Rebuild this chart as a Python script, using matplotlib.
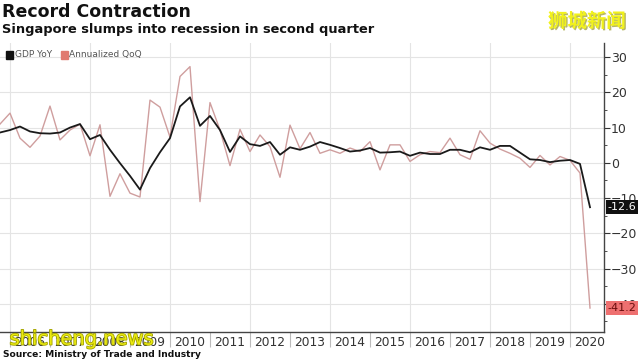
import numpy as np
import pandas as pd
import matplotlib
matplotlib.use('Agg')
import matplotlib.pyplot as plt
import matplotlib.transforms as mtransforms
import matplotlib.patheffects as pe
from matplotlib.patches import Rectangle

plt.rcParams['font.family'] = ['DejaVu Sans', 'Noto Sans CJK SC']

# quarterly data, 2005Q3 .. 2020Q2
quarters = pd.period_range('2005Q3', '2020Q2', freq='Q')
gdp_yoy = [8.6, 9.3, 10.3, 8.9, 8.4, 8.3, 8.6, 10.0, 11.0, 6.7,
           7.9, 3.7, -0.1, -3.7, -7.6, -1.5, 3.0, 7.0, 16.0, 18.6,
           10.5, 13.3, 9.3, 3.1, 7.5, 5.3, 4.8, 5.9, 2.3, 4.4,
           3.7, 4.6, 5.9, 5.1, 4.2, 3.2, 3.5, 4.2, 2.9, 3.0,
           3.2, 2.0, 2.9, 2.5, 2.5, 3.7, 3.7, 3.0, 4.4, 3.7,
           4.8, 4.8, 2.9, 1.0, 0.8, 0.2, 0.6, 0.8, -0.3, -12.6]
qoq_ann = [11.0, 14.1, 7.0, 4.4, 7.6, 16.1, 6.5, 9.3, 11.0, 2.0,
           10.8, -9.5, -3.1, -8.6, -9.7, 17.8, 15.8, 7.3, 24.5, 27.3,
           -11.0, 17.1, 9.3, -0.8, 9.5, 3.2, 7.9, 4.6, -4.1, 10.7,
           4.0, 8.6, 2.7, 3.7, 2.7, 4.2, 3.2, 6.0, -2.0, 5.1,
           5.1, 0.4, 2.3, 3.2, 2.9, 7.0, 2.3, 1.0, 9.1, 5.6,
           3.9, 2.7, 1.3, -1.3, 2.1, -0.6, 1.8, 0.7, -2.9, -41.2]
years = list(range(2006, 2021))

# plot each quarter at its end, as a fractional year
t = np.array([q.year + q.quarter / 4 for q in quarters])

fig = plt.figure(figsize=(6.4, 3.6), dpi=100)
ax = fig.add_axes([0.0, 28 / 360, 604 / 640, 289 / 360])

yoy_col = '#1a1a1a'
qoq_col = '#cf9e9e'

for y in years[::2]:
    ax.axvline(y, color='#e4e4e4', lw=0.8, zorder=0)
for v in range(-40, 31, 10):
    ax.axhline(v, color='#e4e4e4', lw=0.8, zorder=0)

ax.plot(t, qoq_ann, color=qoq_col, lw=1.0, zorder=2)
ax.plot(t, gdp_yoy, color=yoy_col, lw=1.3, zorder=3)

ax.set_xlim(2005.75, 2020.85)
ax.set_ylim(-48, 34)

# x axis: separators at year boundaries, labels centred in each year
ax.set_xticks(years)
ax.set_xticklabels([])
ax.set_xticks([y + 0.5 for y in years], minor=True)
ax.set_xticklabels([str(y) for y in years], minor=True, fontsize=8.8, color='#333333')
ax.tick_params(axis='x', which='major', length=11, width=0.8, color='#bbbbbb', direction='out')
ax.tick_params(axis='x', which='minor', length=0, pad=3)

# y axis on the right
ax.yaxis.tick_right()
ax.set_yticks(range(-40, 31, 10))
ax.set_yticks(range(-45, 31, 5), minor=True)
ax.tick_params(axis='y', which='major', length=4, width=0.8, color='#333333',
               labelsize=9, labelcolor='#333333', pad=1)
ax.tick_params(axis='y', which='minor', length=2.5, width=0.6, color='#333333')

for s in ['left', 'top']:
    ax.spines[s].set_visible(False)
ax.spines['right'].set_color('#444444')
ax.spines['bottom'].set_color('#444444')
ax.spines['right'].set_linewidth(1.0)
ax.spines['bottom'].set_linewidth(1.0)

# last-value labels on the right axis
trans = mtransforms.blended_transform_factory(ax.transAxes, ax.transData)
ax.text(1.006, gdp_yoy[-1], f'{gdp_yoy[-1]:.1f}', transform=trans, fontsize=8,
        color='white', va='center', ha='left', zorder=5, clip_on=False,
        bbox=dict(boxstyle='square,pad=0.18', fc='#111111', ec='none'))
ax.text(1.006, qoq_ann[-1], f'{qoq_ann[-1]:.1f}', transform=trans, fontsize=8,
        color='#6a0d0d', va='center', ha='left', zorder=5, clip_on=False,
        bbox=dict(boxstyle='square,pad=0.18', fc='#ee7070', ec='none'))

# legend
ax.add_patch(Rectangle((0.010, 0.945), 0.011, 0.028, transform=ax.transAxes,
                       color='#111111', clip_on=False))
ax.text(0.025, 0.959, 'GDP YoY', transform=ax.transAxes, fontsize=6.5,
        color='#555555', va='center')
ax.add_patch(Rectangle((0.101, 0.945), 0.011, 0.028, transform=ax.transAxes,
                       color='#e07a70', clip_on=False))
ax.text(0.115, 0.959, 'Annualized QoQ', transform=ax.transAxes, fontsize=6.5,
        color='#555555', va='center')

# titles and source
fig.text(0.003, 0.992, 'Record Contraction', fontsize=12.5, fontweight='bold',
         va='top', ha='left', color='#111111')
fig.text(0.003, 0.935, 'Singapore slumps into recession in second quarter',
         fontsize=9.4, fontweight='bold', va='top', ha='left', color='#111111')
fig.text(0.004, 0.003, 'Source: Ministry of Trade and Industry', fontsize=6.6,
         fontweight='bold', va='bottom', ha='left', color='#111111')

# watermarks
fig.text(0.978, 0.94, '狮城新闻', family=['Noto Sans CJK SC', 'DejaVu Sans'],
         fontsize=14, fontweight='bold', color='#f2f21a', ha='right', va='center',
         path_effects=[pe.withSimplePatchShadow(offset=(1, -1), shadow_rgbFace='#888800', alpha=0.6)])
fig.text(0.015, 0.058, 'shicheng.news', fontsize=14, color='#eaea10',
         ha='left', va='center', zorder=10,
         path_effects=[pe.withStroke(linewidth=1.2, foreground='#a0a000')])

fig.savefig('out.png', dpi=100, facecolor='white')
